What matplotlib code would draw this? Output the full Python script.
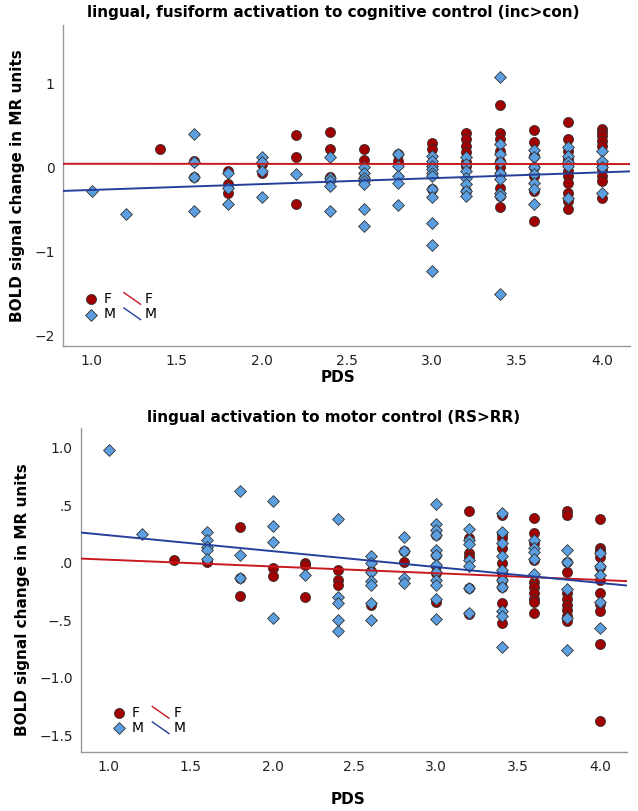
import numpy as np
import matplotlib
matplotlib.use("Agg")
import matplotlib.pyplot as plt
from matplotlib.lines import Line2D
from matplotlib.legend_handler import HandlerBase

# ---------------- data ----------------
# top panel: lingual, fusiform activation to cognitive control
top_f_cols = {
    1.4: [0.22],
    1.6: [0.08, -0.11],
    1.8: [-0.04, -0.20, -0.31],
    2.0: [0.04, -0.06],
    2.2: [0.39, 0.13, -0.44],
    2.4: [0.42, 0.22, -0.11],
    2.6: [0.22, 0.09, -0.12],
    2.8: [0.16, 0.08],
    3.0: [0.29, 0.22, 0.04, -0.26],
    3.2: [0.41, 0.34, 0.26, 0.18, 0.06, 0.02, -0.28],
    3.4: [0.74, 0.41, 0.34, 0.20, 0.08, 0.0, -0.08, -0.24, -0.34, -0.47],
    3.6: [0.45, 0.30, 0.14, 0.0, -0.10, -0.28, -0.64],
    3.8: [0.54, 0.34, 0.20, 0.10, -0.04, -0.10, -0.18, -0.30, -0.40, -0.50],
    4.0: [0.46, 0.42, 0.38, 0.32, 0.26, 0.04, -0.02, -0.10, -0.16, -0.36],
}
top_m_cols = {
    1.0: [-0.28],
    1.2: [-0.55],
    1.6: [0.40, 0.07, -0.11, -0.52],
    1.8: [-0.06, -0.24, -0.44],
    2.0: [0.12, 0.07, -0.04, -0.35],
    2.2: [-0.08],
    2.4: [0.12, -0.12, -0.16, -0.22, -0.52],
    2.6: [0.0, -0.06, -0.12, -0.16, -0.20, -0.50, -0.70],
    2.8: [0.16, 0.02, -0.10, -0.19, -0.45],
    3.0: [0.14, 0.08, 0.02, -0.02, -0.06, -0.10, -0.26, -0.35, -0.66, -0.92, -1.24],
    3.2: [0.12, 0.04, -0.04, -0.12, -0.20, -0.28, -0.34],
    3.4: [1.08, 0.28, 0.16, 0.06, -0.06, -0.14, -0.30, -0.34, -1.51],
    3.6: [0.21, 0.12, 0.0, -0.08, -0.18, -0.26, -0.44],
    3.8: [0.24, 0.14, 0.06, 0.02, -0.36],
    4.0: [0.20, 0.08, 0.0, -0.30],
}
# fit lines (intercept, slope)
top_f_fit = (0.045, -0.001)
top_m_fit = (-0.338, 0.070)

# bottom panel: lingual activation to motor control
bot_f_cols = {
    1.4: [0.02],
    1.6: [0.01],
    1.8: [0.31, -0.13, -0.29],
    2.0: [-0.05, -0.12],
    2.2: [0.0, -0.02, -0.30],
    2.4: [-0.06, -0.15, -0.19],
    2.6: [-0.07, -0.37],
    2.8: [0.10, 0.01],
    3.0: [0.24, 0.07, -0.03, -0.09, -0.34],
    3.2: [0.45, 0.21, 0.08, 0.05, -0.22, -0.45],
    3.4: [0.41, 0.25, 0.21, 0.13, 0.0, -0.09, -0.15, -0.21, -0.35, -0.52],
    3.6: [0.39, 0.26, 0.17, 0.02, -0.17, -0.21, -0.26, -0.32, -0.34, -0.44],
    3.8: [0.45, 0.41, 0.01, -0.08, -0.26, -0.32, -0.37, -0.41, -0.46, -0.51],
    4.0: [0.38, 0.13, 0.10, 0.05, -0.04, -0.15, -0.26, -0.36, -0.42, -0.71, -1.38],
}
bot_m_cols = {
    1.0: [0.98],
    1.2: [0.25],
    1.6: [0.27, 0.20, 0.14, 0.11, 0.03],
    1.8: [0.62, 0.07, -0.13],
    2.0: [0.54, 0.32, 0.18, -0.48],
    2.2: [-0.11],
    2.4: [0.38, -0.30, -0.35, -0.50, -0.59],
    2.6: [0.06, 0.0, -0.08, -0.16, -0.19, -0.35, -0.50],
    2.8: [0.22, 0.10, -0.13, -0.18],
    3.0: [0.51, 0.34, 0.28, 0.24, 0.11, 0.07, -0.02, -0.08, -0.15, -0.19, -0.32, -0.49],
    3.2: [0.29, 0.20, 0.16, 0.02, -0.03, -0.22, -0.44],
    3.4: [0.43, 0.27, 0.17, 0.06, -0.06, -0.15, -0.21, -0.42, -0.46, -0.73],
    3.6: [0.20, 0.13, 0.09, 0.03, -0.10],
    3.8: [0.11, 0.01, -0.23, -0.48, -0.76],
    4.0: [0.08, -0.03, -0.11, -0.34, -0.57],
}
bot_f_fit = (0.084, -0.0586)
bot_m_fit = (0.376, -0.138)

x_ticks = [1.0, 1.5, 2.0, 2.5, 3.0, 3.5, 4.0]
x_tick_labels = ["1.0", "1.5", "2.0", "2.5", "3.0", "3.5", "4.0"]
top_y_ticks = [1, 0, -1, -2]
top_y_labels = ["1", "0", "\u22121", "\u22122"]
bot_y_ticks = [1.0, 0.5, 0.0, -0.5, -1.0, -1.5]
bot_y_labels = ["1.0", ".5", ".0", "\u2212.5", "\u22121.0", "\u22121.5"]

titles = ["lingual, fusiform activation to cognitive control (inc>con)",
          "lingual activation to motor control (RS>RR)"]
x_label = "PDS"
y_label = "BOLD signal change in MR units"


def expand(cols):
    xs, ys = [], []
    for k, vals in cols.items():
        for v in vals:
            xs.append(k)
            ys.append(v)
    return np.array(xs), np.array(ys)


# ---------------- style ----------------
F_FACE = "#a00000"
M_FACE = "#5b9fe0"
EDGE = "#333333"
F_LINE = "#c8191e"
M_LINE = "#24409a"
SPINE = "#9a9a9a"

plt.rcParams['font.family'] = ['DejaVu Sans']


class SlashHandler(HandlerBase):
    def create_artists(self, legend, orig_handle, xdescent, ydescent,
                       width, height, fontsize, trans):
        x0 = -xdescent
        y0 = -ydescent
        ln = Line2D([x0, x0 + width], [y0 + height * 1.05, y0 - height * 0.15],
                    color=orig_handle.get_color(), lw=1.0)
        ln.set_transform(trans)
        return [ln]


fig = plt.figure(figsize=(6.38, 8.11), dpi=100)
fig.patch.set_facecolor("white")

ax_top = fig.add_axes([63 / 638, 1 - 346 / 811, (630 - 63) / 638, (346 - 25) / 811])
ax_bot = fig.add_axes([81 / 638, 1 - 752 / 811, (627 - 81) / 638, (752 - 428) / 811])

panels = [
    (ax_top, top_f_cols, top_m_cols, top_f_fit, top_m_fit, (-2.13, 1.70),
     top_y_ticks, top_y_labels, (0.025, 0.06)),
    (ax_bot, bot_f_cols, bot_m_cols, bot_f_fit, bot_m_fit, (-1.645, 1.17),
     bot_y_ticks, bot_y_labels, (0.045, 0.035)),
]

xlim = (0.83, 4.165)
for ax, fcols, mcols, ffit, mfit, ylim, yt, ytl, leg_anchor in panels:
    fx, fy = expand(fcols)
    mx, my = expand(mcols)
    sf = ax.scatter(fx, fy, s=52, marker="o", facecolor=F_FACE, edgecolor=EDGE,
                    linewidth=0.6, zorder=2)
    sm = ax.scatter(mx, my, s=36, marker="D", facecolor=M_FACE, edgecolor=EDGE,
                    linewidth=0.6, zorder=3)
    xx = np.array(xlim)
    lf, = ax.plot(xx, ffit[0] + ffit[1] * xx, color=F_LINE, lw=1.4, zorder=4)
    lm, = ax.plot(xx, mfit[0] + mfit[1] * xx, color=M_LINE, lw=1.4, zorder=4)
    ax.set_xlim(*xlim)
    ax.set_ylim(*ylim)
    ax.set_xticks(x_ticks)
    ax.set_xticklabels(x_tick_labels)
    ax.set_yticks(yt)
    ax.set_yticklabels(ytl)
    ax.tick_params(length=0, labelsize=10, colors="#222222", pad=6)
    for s in ["top", "right"]:
        ax.spines[s].set_visible(False)
    for s in ["left", "bottom"]:
        ax.spines[s].set_color(SPINE)
        ax.spines[s].set_linewidth(1.0)
    leg = ax.legend([sf, sm, lf, lm], ["F", "M", "F", "M"], ncol=2,
                    loc="lower left", bbox_to_anchor=leg_anchor,
                    frameon=False, fontsize=10, handlelength=1.2,
                    handletextpad=0.3, columnspacing=0.6, labelspacing=0.1,
                    borderaxespad=0.0,
                    handler_map={lf: SlashHandler(), lm: SlashHandler()})

# titles and axis labels
fig.text(333 / 638, 1 - 12 / 811, titles[0], ha="center", va="center",
         fontsize=11, fontweight="bold")
fig.text(334 / 638, 1 - 417 / 811, titles[1], ha="center", va="center",
         fontsize=11, fontweight="bold")
fig.text(338 / 638, 1 - 378 / 811, x_label, ha="center", va="center",
         fontsize=11, fontweight="bold")
fig.text(348 / 638, 1 - 800 / 811, x_label, ha="center", va="center",
         fontsize=11, fontweight="bold")
fig.text(18 / 638, 1 - 186 / 811, y_label, ha="center", va="center",
         rotation=90, fontsize=11, fontweight="bold")
fig.text(23 / 638, 1 - 600 / 811, y_label, ha="center", va="center",
         rotation=90, fontsize=11, fontweight="bold")

fig.savefig("out.png", dpi=100, facecolor="white")
